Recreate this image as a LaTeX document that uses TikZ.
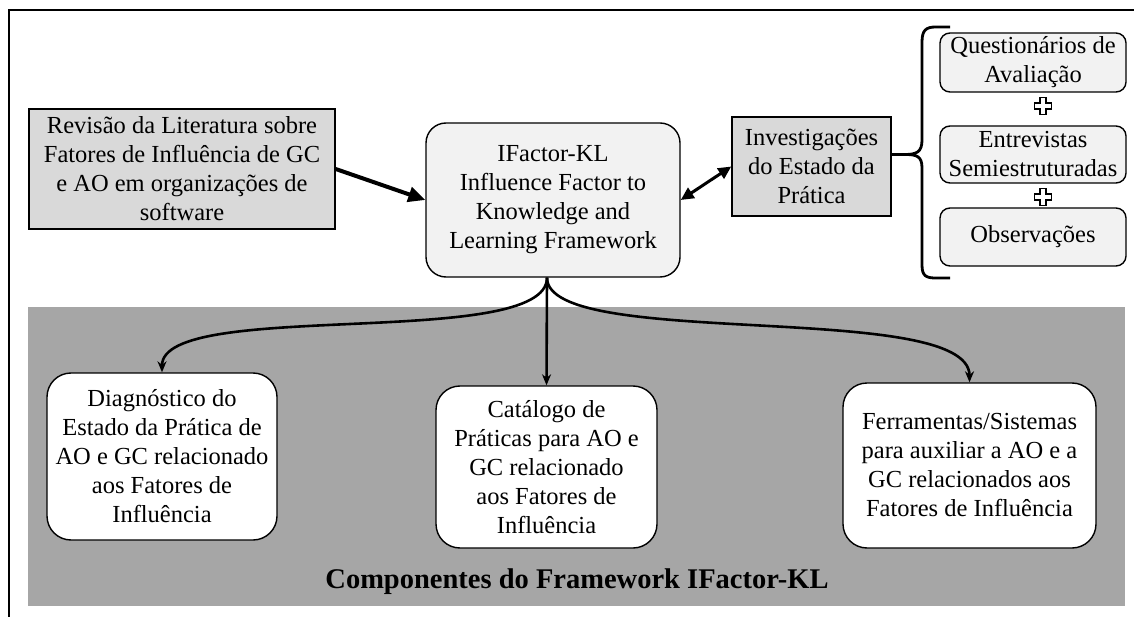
\documentclass[tikz,border=0pt]{standalone}
\usepackage{fontspec}
\setmainfont{Liberation Serif}
\usetikzlibrary{arrows.meta}
\definecolor{boxgray}{HTML}{D9D9D9}
\definecolor{lightbox}{HTML}{F2F2F2}
\definecolor{panel}{HTML}{A6A6A6}
\begin{document}
\begin{tikzpicture}[x=1pt,y=-1pt,
  txt/.style={font=\fontsize{24.5}{29}\selectfont, align=center, inner sep=0pt},
  sqbox/.style={txt, draw, line width=1.4pt, fill=boxgray},
  rbox/.style={txt, draw, line width=1.4pt, fill=lightbox, rounded corners=10pt},
  wbox/.style={txt, draw, line width=1.4pt, fill=white, rounded corners=24pt},
  conn/.style={line width=2.6pt, -{Stealth[length=11pt,width=9pt]}},
  plusmark/.style={draw, line width=1.2pt, fill=white}
]
\useasboundingbox (0,0) rectangle (1134,617);
\fill[white] (0,0) rectangle (1134,617);
% frame
\draw[line width=1.6pt] (9,617) -- (9,10) -- (1134,10);
% panel
\fill[panel] (28,307) rectangle (1125,606);

% nodes
\node[sqbox, minimum width=306pt, minimum height=120pt] (rev) at (182,169)
  {Revisão da Literatura sobre\\Fatores de Influência de GC\\e AO em organizações de\\software};
\node[rbox, rounded corners=20pt, minimum width=254pt, minimum height=154pt] (main) at (553,200)
  {IFactor-KL\\Influence Factor to\\Knowledge and\\Learning Framework};
\node[sqbox, minimum width=159pt, minimum height=99pt] (inv) at (811.5,166.5)
  {Investigações\\do Estado da\\Prática};
\node[rbox, minimum width=186pt, minimum height=59pt] (q1) at (1033,62.5)
  {Questionários de\\Avaliação};
\node[rbox, minimum width=186pt, minimum height=57pt] (q2) at (1033,154.5)
  {Entrevistas\\Semiestruturadas};
\node[rbox, minimum width=186pt, minimum height=58pt] (q3) at (1033,237)
  {Observações};
\node[wbox, minimum width=230pt, minimum height=167pt] (diag) at (162,456.5)
  {Diagnóstico do\\Estado da Prática de\\AO e GC relacionado\\aos Fatores de\\Influência};
\node[wbox, minimum width=221pt, minimum height=162pt] (cat) at (546.5,467)
  {Catálogo de\\Práticas para AO e\\GC relacionado\\aos Fatores de\\Influência};
\node[wbox, minimum width=253pt, minimum height=165pt] (fer) at (969.5,465.5)
  {Ferramentas/Sistemas\\para auxiliar a AO e a\\GC relacionados aos\\Fatores de Influência};
\node[txt, font=\fontsize{28.5}{32}\selectfont\bfseries] (title) at (577,582)
  {Componentes do Framework IFactor-KL};

% plus signs
\node (p1) at (1043,106) {};
\node (p2) at (1043,197) {};
\foreach \p in {p1,p2}{
  \draw[plusmark] ([shift={(-3pt,8.5pt)}]\p.center) -- ++(6,0) -- ++(0,5.5) -- ++(5.5,0) -- ++(0,6) -- ++(-5.5,0)
    -- ++(0,5.5) -- ++(-6,0) -- ++(0,-5.5) -- ++(-5.5,0) -- ++(0,-6) -- ++(5.5,0) -- cycle;
}

% arrows
\draw[line width=4pt, -{Triangle[length=17pt,width=15pt]}] (rev.east) -- (main.west);
\draw[line width=3pt, {Triangle[length=13pt,width=12pt]}-{Triangle[length=13pt,width=12pt]}] (main.east) -- (inv.west);

\coordinate (hub) at ([xshift=-6pt]main.south);
\draw[conn] (hub) .. controls ++(0,73) and ([yshift=74pt]diag.north) .. (diag.north);
\draw[conn] (hub) -- (cat.north);
\draw[conn] (hub) .. controls ++(0,73) and ([yshift=83pt]fer.north) .. (fer.north);

% brace
\coordinate (bt) at ([yshift=12pt]inv.east);
\draw[line width=2.8pt, line join=round] (bt) -- ++(13,0) .. controls ++(12,0) and (922,152) .. (922,140) -- (922,42)
  .. controls (922,30) and (926,27) .. (936,27) -- (950,27);
\draw[line width=2.8pt, line join=round] ([xshift=13pt]bt) .. controls ++(12,0) and (922,156) .. (922,168) -- (922,265)
  .. controls (922,276) and (926,278) .. (936,278) -- (950,278);
\end{tikzpicture}
\end{document}
